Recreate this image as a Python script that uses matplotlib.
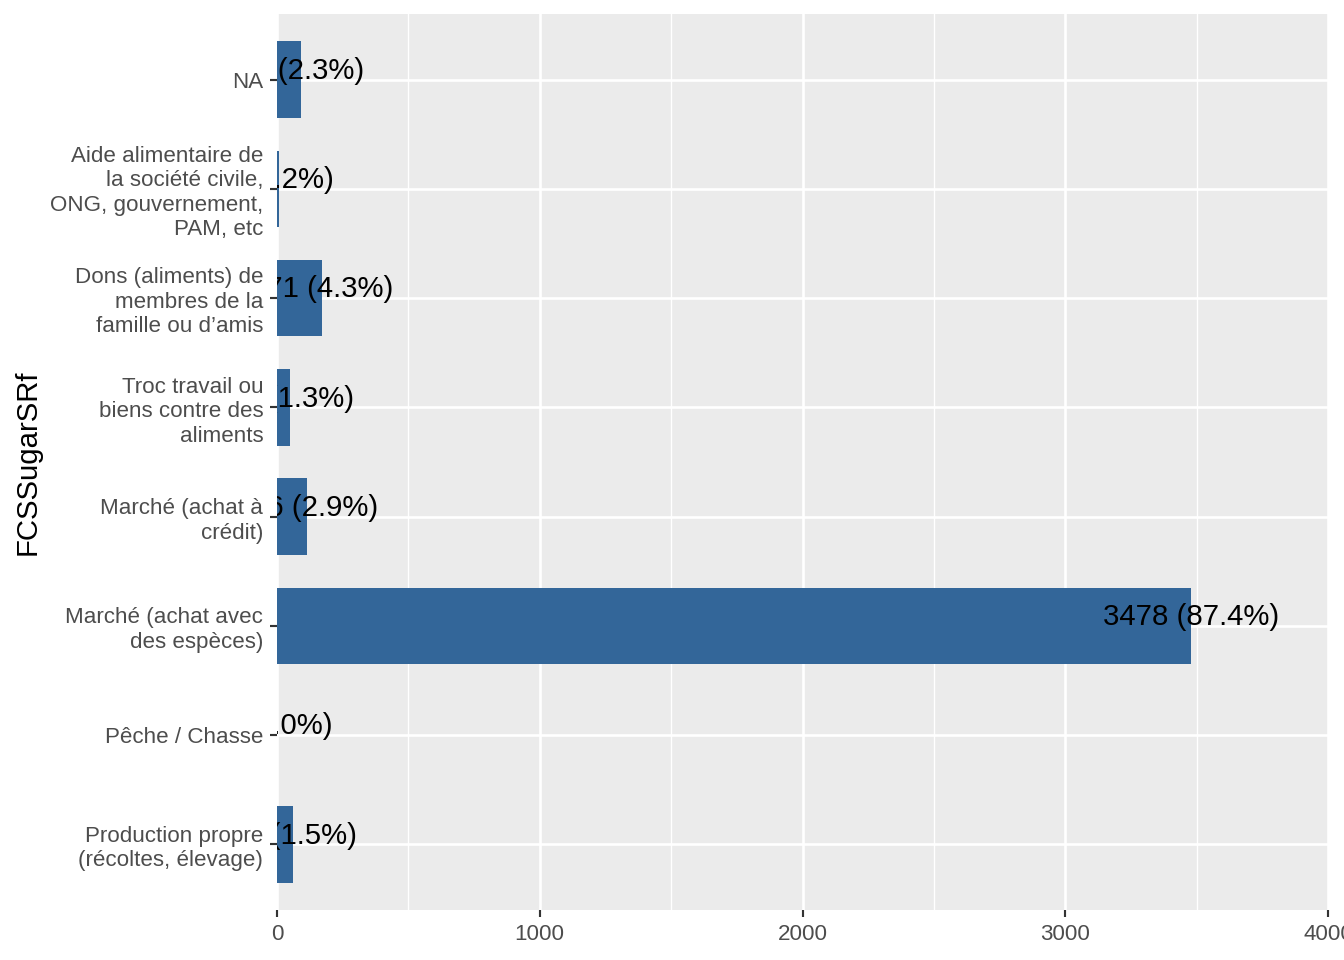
import matplotlib
matplotlib.use("Agg")
import matplotlib.pyplot as plt
import numpy as np

plt.rcParams['font.family'] = ['Liberation Sans', 'DejaVu Sans']

# categories, bottom to top
categories = [
    "Production propre\n(récoltes, élevage)",
    "Pêche / Chasse",
    "Marché (achat avec\ndes espèces)",
    "Marché (achat à\ncrédit)",
    "Troc travail ou\nbiens contre des\naliments",
    "Dons (aliments) de\nmembres de la\nfamille ou d’amis",
    "Aide alimentaire de\nla société civile,\nONG, gouvernement,\nPAM, etc",
    "NA",
]
counts = [61, 0, 3478, 116, 51, 171, 7, 91]
pcts = ["1.5%", "0.0%", "87.4%", "2.9%", "1.3%", "4.3%", "0.2%", "2.3%"]
xticks = [0, 1000, 2000, 3000, 4000]

fig = plt.figure(figsize=(7, 5), dpi=192)
ax = fig.add_axes([277/1344, 1-910/960, (1328-277)/1344, (910-14)/960])
ax.set_facecolor('#EBEBEB')

y = np.arange(len(categories))
ax.barh(y, counts, height=0.7, color='#336699', zorder=3)

# labels centred on the bar end, clipped by the panel like in ggplot
for yi, c, p in zip(y, counts, pcts):
    ax.text(c, yi + 0.08, f"{c} ({p})", ha='center', va='center', fontsize=11,
            color='black', zorder=4, clip_on=True)

ax.set_xlim(0, 4000)
ax.set_ylim(-0.6, len(categories) - 0.4)
ax.set_xticks(xticks)
ax.set_xticks([500, 1500, 2500, 3500], minor=True)
ax.set_yticks(y)
ax.set_yticklabels(categories, linespacing=1.22)

ax.grid(True, which='major', color='white', linewidth=1.0, zorder=0)
ax.grid(True, which='minor', axis='x', color='white', linewidth=0.5, zorder=0)
ax.set_axisbelow(True)
for s in ax.spines.values():
    s.set_visible(False)

ax.tick_params(axis='both', which='major', length=2.75, width=0.8, color='#333333',
               labelsize=8.4, labelcolor='#4D4D4D', pad=2.4)
ax.tick_params(axis='x', which='minor', length=0)

fig.text(28/1344, 1-462/960, "FCSSugarSRf", rotation=90, fontsize=11,
         ha='center', va='center', color='black')

fig.savefig("out.png", dpi=192)
